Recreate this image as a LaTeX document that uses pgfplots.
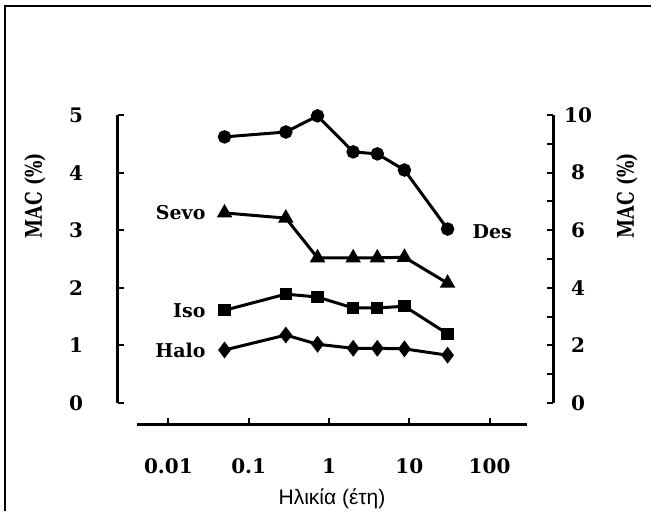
\documentclass[border=0pt]{standalone}
\usepackage{fontspec}
\setmainfont{DejaVu Serif}
\newfontfamily\labelfont{Liberation Sans}
\usepackage{pgfplots}
\pgfplotsset{compat=1.18}
\tikzset{curvelabel/.style={font=\bfseries\fontsize{9.5}{10}\selectfont}}

\begin{document}
\begin{tikzpicture}
\useasboundingbox (0,0) rectangle (325.5pt,255.5pt);
\draw[line width=1pt] (2.5pt,0pt) -- (2.5pt,252.5pt) -- (325.5pt,252.5pt);

% left axis: Halo, Iso, Sevo
\begin{axis}[
  scale only axis, xmode=log, clip=false,
  xmin=2.356e-3, xmax=616.6,
  width=217.5pt, height=144pt,
  at={(59pt,54pt)}, anchor=south west,
  hide x axis,
  axis line style={line width=1.5pt,-},
  tick style={line width=1pt,black},
  major tick length=3pt, tick align=inside,
  /pgf/number format/assume math mode=true,
  tick label style={font=\bfseries\fontsize{10}{11}\selectfont},
  ymin=0, ymax=5, ytick={0,1,2,3,4,5},
  axis y line*=left,
  y tick label style={anchor=center, xshift=-21pt},
  ylabel={\scalebox{0.75}[1]{MAC (\%)}},
  ylabel style={font=\bfseries\fontsize{11.5}{12}\selectfont, inner sep=0pt, at={(axis description cs:-0.191,0.72)}, anchor=center},
]
\addplot[black, line width=1.5pt, mark=diamond*, mark size=3pt] coordinates {
  (0.05,0.92) (0.29,1.18) (0.72,1.02) (2,0.95) (4,0.95) (8.7,0.94) (30,0.83)};
\addplot[black, line width=1.5pt, mark=square*, mark size=2.3pt] coordinates {
  (0.05,1.61) (0.29,1.89) (0.72,1.84) (2,1.65) (4,1.65) (8.7,1.68) (30,1.20)};
\addplot[black, line width=1.5pt, mark=triangle*, mark size=3pt] coordinates {
  (0.05,3.30) (0.29,3.21) (0.72,2.52) (2,2.52) (4,2.52) (8.7,2.53) (30,2.08)};
\node[curvelabel, anchor=east, xshift=-6pt] at (axis cs:0.05,3.30) {Sevo};
\node[curvelabel, anchor=east, xshift=-6pt] at (axis cs:0.05,1.61) {Iso};
\node[curvelabel, anchor=east, xshift=-6pt] at (axis cs:0.05,0.92) {Halo};
\end{axis}

% right axis: Des
\begin{axis}[
  scale only axis, xmode=log, clip=false,
  xmin=2.356e-3, xmax=616.6,
  width=217.5pt, height=144pt,
  at={(59pt,54pt)}, anchor=south west,
  hide x axis,
  axis line style={line width=1.5pt,-},
  tick style={line width=1pt,black},
  major tick length=3pt, minor tick length=3pt, tick align=inside,
  /pgf/number format/assume math mode=true,
  tick label style={font=\bfseries\fontsize{10}{11}\selectfont},
  ymin=0, ymax=10, ytick={0,2,4,6,8,10}, minor ytick={1,3,5,7,9},
  axis y line*=right,
  y tick label style={anchor=center, xshift=12.5pt},
  ylabel={\scalebox{0.75}[1]{MAC (\%)}},
  ylabel style={font=\bfseries\fontsize{11.5}{12}\selectfont, inner sep=0pt, at={(axis description cs:1.170,0.72)}, anchor=center},
]
\addplot[black, line width=1.5pt, mark=*, mark size=2.6pt] coordinates {
  (0.05,9.24) (0.29,9.41) (0.72,9.97) (2,8.72) (4,8.65) (8.7,8.09) (30,6.04)};
\node[curvelabel, anchor=west, xshift=9pt] at (axis cs:30,5.95) {Des};
\end{axis}

% detached age axis
\begin{axis}[
  scale only axis, xmode=log,
  xmin=4.064e-3, xmax=292.4, ymin=0, ymax=1,
  width=195pt, height=10pt,
  at={(68.5pt,43.5pt)}, anchor=south west,
  hide y axis, axis x line*=bottom,
  axis line style={line width=1.5pt,-},
  tick style={line width=1pt,black}, major tick length=3pt,
  tick align=inside,
  xtick={0.01,0.1,1,10,100}, xminorticks=false,
  xticklabels={0.01,0.1,1,10,100},
  x tick label style={font=\bfseries\fontsize{10}{11}\selectfont, anchor=center, yshift=-21pt},
  xlabel={Ηλικία (έτη)},
  xlabel style={font=\labelfont\fontsize{10.5}{12}\selectfont, inner sep=0pt, at={(axis description cs:0.5,0)}, anchor=center, yshift=-37.5pt},
]
\end{axis}
\end{tikzpicture}
\end{document}
